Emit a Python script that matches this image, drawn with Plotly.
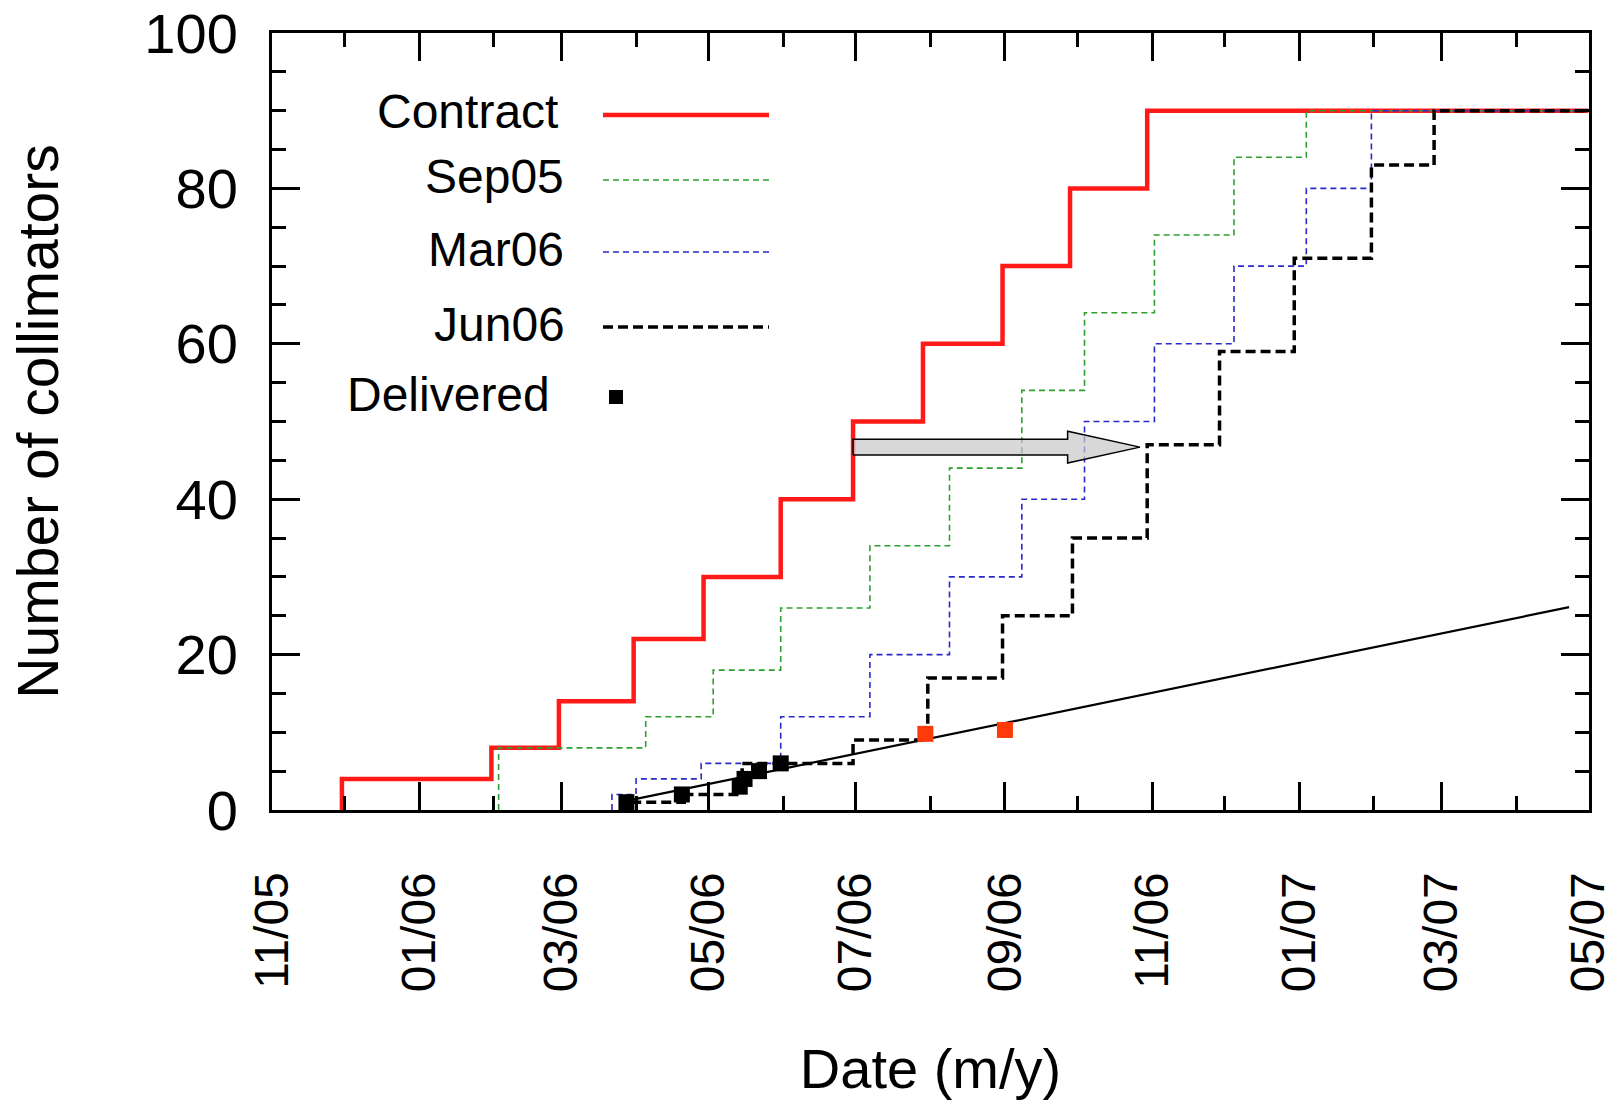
import plotly.graph_objects as go
import pandas as pd

# ---------------- data ----------------
x_start = "2005-11-01"
x_end = "2007-05-01"

contract_dates = ["2005-11-30", "2006-01-31", "2006-02-28", "2006-03-31", "2006-04-29",
                  "2006-05-31", "2006-06-30", "2006-07-29", "2006-08-31", "2006-09-28", "2006-10-30"]
contract_vals = [4, 8, 14, 22, 30, 40, 50, 60, 70, 80, 90]

sep05_dates = ["2006-02-03", "2006-04-05", "2006-05-03", "2006-05-31", "2006-07-07", "2006-08-09",
               "2006-09-08", "2006-10-04", "2006-11-02", "2006-12-05", "2007-01-04"]
sep05_vals = [8, 12, 18, 26, 34, 44, 54, 64, 74, 84, 90]

mar06_dates = ["2006-03-22", "2006-04-01", "2006-04-28", "2006-05-31", "2006-07-07", "2006-08-09",
               "2006-09-08", "2006-10-04", "2006-11-02", "2006-12-05", "2007-01-04", "2007-01-31"]
mar06_vals = [2, 4, 6, 12, 20, 30, 40, 50, 60, 70, 80, 90]

jun06_dates = ["2006-03-27", "2006-04-21", "2006-05-15", "2006-06-30", "2006-07-31", "2006-08-31",
               "2006-09-29", "2006-10-30", "2006-11-29", "2006-12-30", "2007-01-31", "2007-02-26"]
jun06_vals = [1, 2, 6, 9, 17, 25, 35, 47, 59, 71, 83, 90]

delivered_dates = ["2006-03-28", "2006-04-20", "2006-05-14", "2006-05-16", "2006-05-22", "2006-05-31"]
delivered_vals = [1, 2, 3, 4, 5, 6]

forecast_dates = ["2006-07-30", "2006-09-01"]
forecast_vals = [9.8, 10.3]

trend_dates = ["2006-03-30", "2007-04-23"]
trend_vals = [1.3, 26.1]

# arrow annotation (from Contract to Jun06 schedule)
arrow_from = "2006-06-30"
arrow_to = "2006-10-27"
arrow_level = 46.7

# ---------------- styles ----------------
FONT = "Liberation Sans, Arial, Helvetica, sans-serif"
RED = "#ff1a1a"
GREEN = "#2fa02f"
BLUE = "#2a2acc"
BLACK = "#000000"
ORANGE = "#ff3a0a"


def step_xy(dates, vals, end):
    xs = [dates[0]] + list(dates) + [end]
    ys = [0] + list(vals) + [vals[-1]]
    return xs, ys


fig = go.Figure()

series = [
    ("Contract", contract_dates, contract_vals, dict(color=RED, width=4.5)),
    ("Sep05", sep05_dates, sep05_vals, dict(color=GREEN, width=1.6, dash="6px,4px")),
    ("Mar06", mar06_dates, mar06_vals, dict(color=BLUE, width=1.6, dash="6px,4px")),
    ("Jun06", jun06_dates, jun06_vals, dict(color=BLACK, width=3.5, dash="10px,5px")),
]
for name, d, v, ln in series:
    xs, ys = step_xy(d, v, x_end)
    fig.add_trace(go.Scatter(x=xs, y=ys, mode="lines", name=name, line_shape="hv",
                             line=ln, showlegend=False))

fig.add_trace(go.Scatter(x=trend_dates, y=trend_vals, mode="lines", name="Trend",
                         line=dict(color=BLACK, width=2.2), showlegend=False))

fig.add_trace(go.Scatter(x=delivered_dates, y=delivered_vals, mode="markers", name="Delivered",
                         marker=dict(symbol="square", size=16, color=BLACK), showlegend=False))
fig.add_trace(go.Scatter(x=forecast_dates, y=forecast_vals, mode="markers", name="Delivered (red)",
                         marker=dict(symbol="square", size=16, color=ORANGE), showlegend=False))

# block arrow polygon
t0 = pd.Timestamp(arrow_from)
t1 = pd.Timestamp(arrow_to)
head = pd.Timedelta(days=30)
hb = t1 - head
bw, hw = 1.0, 2.05
ax = [t0, hb, hb, t1, hb, hb, t0, t0]
ay = [arrow_level - bw, arrow_level - bw, arrow_level - hw, arrow_level,
      arrow_level + hw, arrow_level + bw, arrow_level + bw, arrow_level - bw]
fig.add_trace(go.Scatter(x=ax, y=ay, mode="lines", fill="toself",
                         fillcolor="rgba(200,200,200,0.7)",
                         line=dict(color=BLACK, width=1.5), showlegend=False, hoverinfo="skip"))

# ---------------- layout geometry (body margin removed via post_script) ----------------
FIG_W, FIG_H = 1611, 1104
L, R_, T, B = 272, 1589, 33, 810          # plot area in page pixels
W, H = R_ - L, B - T


def px(X):
    return (X - L) / W


def py(Y):
    return (B - Y) / H


legend_items = [
    ("Contract", 560, 112, dict(color=RED, width=4.5)),
    ("Sep05", 566, 177, dict(color=GREEN, width=1.6, dash="6px,4px")),
    ("Mar06", 566, 249, dict(color=BLUE, width=1.6, dash="6px,4px")),
    ("Jun06", 567, 324, dict(color=BLACK, width=3.5, dash="10px,5px")),
]
annotations = []
shapes = []
for name, tx, ty, ln in legend_items:
    annotations.append(dict(text=name, x=px(tx), y=py(ty), xref="paper", yref="paper",
                            xanchor="right", yanchor="middle", showarrow=False,
                            font=dict(family=FONT, size=48, color="black")))
    shapes.append(dict(type="line", xref="paper", yref="paper", x0=px(603), x1=px(769),
                       y0=py(ty + 3), y1=py(ty + 3), line=ln))
annotations.append(dict(text="Delivered", x=px(552), y=py(394), xref="paper", yref="paper",
                        xanchor="right", yanchor="middle", showarrow=False,
                        font=dict(family=FONT, size=48, color="black")))
shapes.append(dict(type="rect", xref="paper", yref="paper", x0=px(609), x1=px(623),
                   y0=py(404), y1=py(390), fillcolor="black", line=dict(width=0)))

fig.update_layout(
    width=FIG_W, height=FIG_H,
    margin=dict(l=L, r=FIG_W - R_, t=T, b=FIG_H - B, autoexpand=False),
    paper_bgcolor="white", plot_bgcolor="white",
    font=dict(family=FONT, color="black"),
    annotations=annotations, shapes=shapes,
    showlegend=False,
)

fig.update_xaxes(
    type="date", range=[x_start, "2007-05-01 06:00"], tick0=x_start, dtick="M2", tickformat="%m/%y",
    tickangle=-90, ticks="inside", ticklen=28, tickwidth=3, tickcolor="black",
    showline=True, linewidth=3, linecolor="black", mirror="ticks",
    showgrid=False, zeroline=False, ticklabeloverflow="allow",
    tickfont=dict(family=FONT, size=48, color="black"), ticklabelstandoff=40,
    minor=dict(dtick="M1", tick0=x_start, ticks="inside", ticklen=14, tickwidth=3,
               tickcolor="black", showgrid=False),
    title=dict(text="Date (m/y)", font=dict(family=FONT, size=56, color="black"), standoff=58),
)
fig.update_yaxes(
    range=[0, 100], tick0=0, dtick=20, ticks="inside", ticklen=28, tickwidth=3, tickcolor="black",
    showline=True, linewidth=3, linecolor="black", mirror="ticks",
    showgrid=False, zeroline=False, ticklabeloverflow="allow",
    tickfont=dict(family=FONT, size=56, color="black"), ticklabelstandoff=20,
    minor=dict(dtick=5, tick0=0, ticks="inside", ticklen=14, tickwidth=3,
               tickcolor="black", showgrid=False),
    title=dict(text="Number of collimators", font=dict(family=FONT, size=57, color="black"),
               standoff=68),
)

fig.write_html(
    "out.html",
    config={"displayModeBar": False},
    post_script="document.body.style.margin='0';document.body.style.overflow='hidden';",
)
